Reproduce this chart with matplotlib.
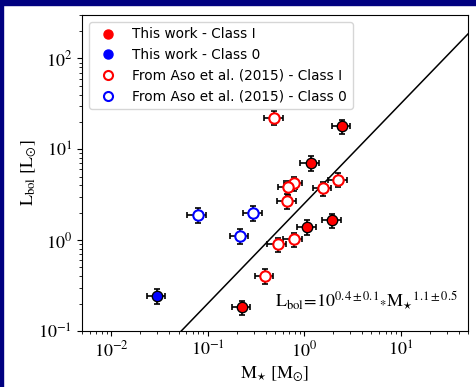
import numpy as np
import matplotlib.pyplot as plt
from matplotlib.lines import Line2D

plt.rcParams['font.family'] = 'STIXGeneral'
plt.rcParams['mathtext.fontset'] = 'stix'

# this work - Class I (filled red)
tw1_mass = np.array([2.48, 1.17, 1.08, 1.96, 0.228])
tw1_lbol = np.array([18.0, 7.1, 1.40, 1.66, 0.182])

# this work - Class 0 (filled blue)
tw0_mass = np.array([0.030])
tw0_lbol = np.array([0.243])

# Aso et al. (2015) - Class I (open red)
aso1_mass = np.array([0.491, 0.789, 0.689, 0.673, 1.57, 2.26, 0.536, 0.783, 0.394])
aso1_lbol = np.array([22.3, 4.23, 3.82, 2.70, 3.72, 4.65, 0.90, 1.02, 0.405])

# Aso et al. (2015) - Class 0 (open blue)
aso0_mass = np.array([0.0794, 0.298, 0.217])
aso0_lbol = np.array([1.90, 1.99, 1.11])

# fractional errors
xerr_frac = 0.22
yerr_frac = 0.18

# fit L = 10^a * M^b
fit_a = 0.4
fit_b = 1.1

fig = plt.figure(figsize=(4.77, 3.87), dpi=100)
fig.patch.set_facecolor('white')
ax = fig.add_axes([0.172, 0.1447, 0.809, 0.8163])

# navy frame on top and left
fig.add_artist(plt.Rectangle((0, 1 - 5 / 387), 1, 5 / 387, transform=fig.transFigure,
                             color='#000080', zorder=10))
fig.add_artist(plt.Rectangle((0, 0), 3 / 477, 1, transform=fig.transFigure,
                             color='#000080', zorder=10))

eb = dict(fmt='none', ecolor='k', elinewidth=1.2, capsize=2, capthick=1.2, zorder=2)

groups = [
    (aso1_mass, aso1_lbol, dict(ms=7.5, mfc='white', mec='red', mew=1.5)),
    (aso0_mass, aso0_lbol, dict(ms=7.5, mfc='white', mec='blue', mew=1.5)),
    (tw1_mass, tw1_lbol, dict(ms=7.5, mfc='red', mec='k', mew=1.0)),
    (tw0_mass, tw0_lbol, dict(ms=7.5, mfc='blue', mec='k', mew=1.0)),
]
for m, l, st in groups:
    ax.errorbar(m, l, xerr=xerr_frac * m, yerr=yerr_frac * l, **eb)
    ax.plot(m, l, ls='none', marker='o', zorder=3, **st)

mfit = np.logspace(np.log10(0.005), np.log10(50), 200)
ax.plot(mfit, 10 ** fit_a * mfit ** fit_b, color='k', lw=1.1, zorder=1)

ax.set_xscale('log')
ax.set_yscale('log')
ax.set_xlim(0.005, 50)
ax.set_ylim(0.1, 300)
ax.tick_params(labelsize=13)

ax.set_xlabel(r'$\mathrm{M_{\star}\ [M_{\odot}]}$', fontsize=13, labelpad=2)
ax.set_ylabel(r'$\mathrm{L_{bol}\ [L_{\odot}]}$', fontsize=13, labelpad=0)

ax.text(0.50, 0.075, r'$\mathrm{L_{bol}\!=\!10^{0.4\pm0.1}{}_{*}M_{\star}{}^{1.1\pm0.5}}$',
        transform=ax.transAxes, fontsize=13)

handles = [
    Line2D([], [], ls='none', marker='o', ms=6.5, color='red', label='This work - Class I'),
    Line2D([], [], ls='none', marker='o', ms=6.5, color='blue', label='This work - Class 0'),
    Line2D([], [], ls='none', marker='o', ms=6.5, mfc='white', mec='red', mew=1.5,
           label='From Aso et al. (2015) - Class I'),
    Line2D([], [], ls='none', marker='o', ms=6.5, mfc='white', mec='blue', mew=1.5,
           label='From Aso et al. (2015) - Class 0'),
]
ax.legend(handles=handles, loc='upper left', prop={'family': 'DejaVu Sans', 'size': 9.8})

fig.savefig('out.png', dpi=100)
